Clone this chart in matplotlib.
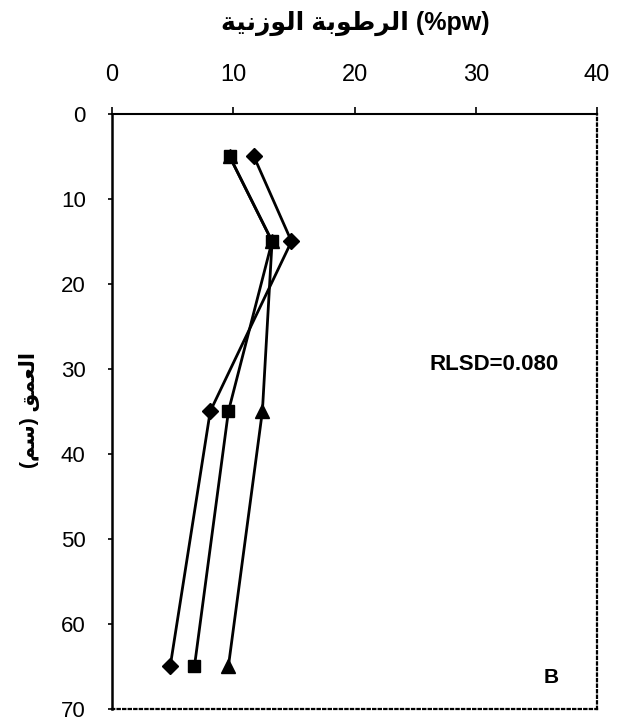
import matplotlib
matplotlib.use("Agg")
import matplotlib.pyplot as plt

# Soil moisture profile (gravimetric %) versus depth (cm)
depth = [5, 15, 35, 65]
moist_diamond = [11.7, 14.8, 8.1, 4.8]
moist_square = [9.7, 13.2, 9.6, 6.8]
moist_triangle = [9.7, 13.2, 12.4, 9.6]

x_ticks = [0, 10, 20, 30, 40]
y_ticks = [0, 10, 20, 30, 40, 50, 60, 70]

title_word1 = "الرطوبة"
title_word2 = "الوزنية"
title_unit = "(%pw)"
ylabel_word = "العمق"
ylabel_unit = "سم"
stat_text = "RLSD=0.080"
panel_text = "B"

# Minimal Arabic contextual shaping (presentation forms B)
FORMS = {
    "ا": ("\uFE8D", "\uFE8E", None, None),
    "ب": ("\uFE8F", "\uFE90", "\uFE91", "\uFE92"),
    "ة": ("\uFE93", "\uFE94", None, None),
    "ر": ("\uFEAD", "\uFEAE", None, None),
    "ز": ("\uFEAF", "\uFEB0", None, None),
    "س": ("\uFEB1", "\uFEB2", "\uFEB3", "\uFEB4"),
    "ط": ("\uFEC1", "\uFEC2", "\uFEC3", "\uFEC4"),
    "ع": ("\uFEC9", "\uFECA", "\uFECB", "\uFECC"),
    "ق": ("\uFED5", "\uFED6", "\uFED7", "\uFED8"),
    "ل": ("\uFEDD", "\uFEDE", "\uFEDF", "\uFEE0"),
    "م": ("\uFEE1", "\uFEE2", "\uFEE3", "\uFEE4"),
    "ن": ("\uFEE5", "\uFEE6", "\uFEE7", "\uFEE8"),
    "و": ("\uFEED", "\uFEEE", None, None),
    "ي": ("\uFEF1", "\uFEF2", "\uFEF3", "\uFEF4"),
}


def joins_forward(ch):
    return ch in FORMS and FORMS[ch][2] is not None


def shape_word(word):
    out = []
    for i, ch in enumerate(word):
        prev_j = i > 0 and joins_forward(word[i - 1])
        next_j = i < len(word) - 1 and word[i + 1] in FORMS and joins_forward(ch)
        iso, fin, ini, med = FORMS[ch]
        if prev_j and next_j:
            g = med
        elif prev_j:
            g = fin
        elif next_j:
            g = ini
        else:
            g = iso
        out.append(g)
    return "".join(reversed(out))


FAMILY = ["Liberation Sans", "DejaVu Sans"]

fig = plt.figure(figsize=(6.19, 7.26), dpi=100)
ax = fig.add_axes([0.181, 0.024, 0.7835, 0.819])

ax.plot(moist_triangle, depth, color="black", lw=2, marker="^", ms=10, zorder=3)
ax.plot(moist_diamond, depth, color="black", lw=2, marker="D", ms=8, zorder=4)
ax.plot(moist_square, depth, color="black", lw=2, marker="s", ms=9, zorder=5)

ax.set_xlim(0, 40)
ax.set_ylim(70, 0)
ax.xaxis.tick_top()
ax.set_xticks(x_ticks)
ax.set_yticks(y_ticks)
ax.tick_params(axis="x", direction="out", length=5, width=1.2, pad=15,
               labelsize=17, top=True, bottom=False)
ax.tick_params(axis="y", direction="out", length=3, width=1.2, pad=16,
               labelsize=16)
for lab in ax.get_xticklabels() + ax.get_yticklabels():
    lab.set_family(FAMILY)

ax.spines["top"].set_linewidth(1.5)
ax.spines["left"].set_linewidth(1.8)
for side in ("right", "bottom"):
    ax.spines[side].set_linestyle((0, (1, 1.5)))
    ax.spines[side].set_linewidth(1.6)

ax.text(31.5, 29.5, stat_text, fontsize=16, fontweight="bold",
        family=FAMILY, ha="center", va="center")
ax.text(36.2, 66.4, panel_text, fontsize=15, fontweight="bold",
        family=FAMILY, ha="center", va="center")

title = shape_word(title_word2) + " " + shape_word(title_word1) + " " + title_unit
fig.text(355 / 619, 1 - 23 / 726, title, fontsize=18, fontweight="bold",
         family=FAMILY, ha="center", va="center")

ylabel = "(" + shape_word(ylabel_unit) + ") " + shape_word(ylabel_word)
fig.text(30 / 619, 1 - 410 / 726, ylabel, fontsize=15, fontweight="bold",
         family=FAMILY, ha="center", va="center", rotation=90)

fig.savefig("out.png", dpi=100, facecolor="white")
